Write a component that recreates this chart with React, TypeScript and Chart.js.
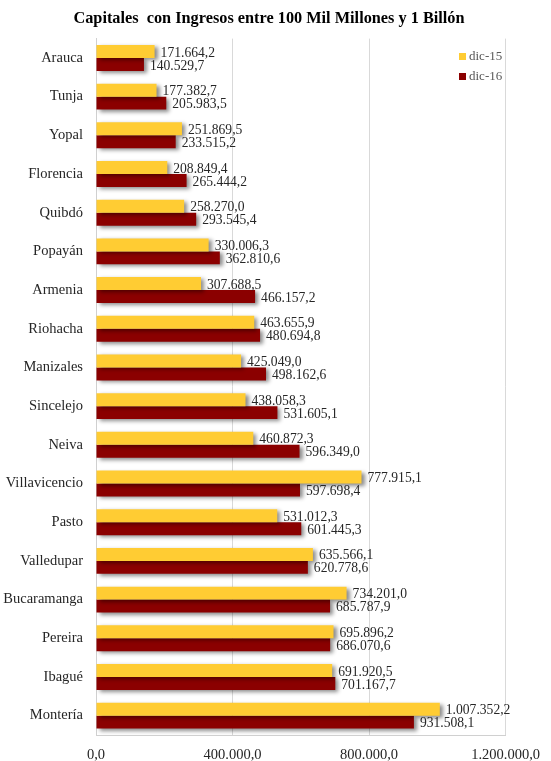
import { useEffect, useRef } from 'react';
import { Chart, registerables } from 'chart.js';

Chart.register(...registerables);

const title = 'Capitales  con Ingresos entre 100 Mil Millones y 1 Billón';
const categories = [
  'Arauca', 'Tunja', 'Yopal', 'Florencia', 'Quibdó', 'Popayán', 'Armenia', 'Riohacha', 'Manizales',
  'Sincelejo', 'Neiva', 'Villavicencio', 'Pasto', 'Valledupar', 'Bucaramanga', 'Pereira', 'Ibagué', 'Montería',
];
const seriesNames = ['dic-15', 'dic-16'];
const dic15 = [
  171664.2, 177382.7, 251869.5, 208849.4, 258270.0, 330006.3, 307688.5, 463655.9, 425049.0,
  438058.3, 460872.3, 777915.1, 531012.3, 635566.1, 734201.0, 695896.2, 691920.5, 1007352.2,
];
const dic16 = [
  140529.7, 205983.5, 233515.2, 265444.2, 293545.4, 362810.6, 466157.2, 480694.8, 498162.6,
  531605.1, 596349.0, 597698.4, 601445.3, 620778.6, 685787.9, 686070.6, 701167.7, 931508.1,
];
const xMin = 0;
const xMax = 1200000;
const xStep = 400000;

const colors = ['#FFCC33', '#8B0000'];
const FONT = '"Liberation Serif", "Times New Roman", serif';

function fmt(v: number): string {
  const s = Math.abs(v).toFixed(1);
  const [i, d] = s.split('.');
  return (v < 0 ? '-' : '') + i.replace(/\B(?=(\d{3})+(?!\d))/g, '.') + ',' + d;
}

const decorPlugin = {
  id: 'decor',
  beforeDatasetsDraw(chart: any) {
    const ctx = chart.ctx;
    ctx.save();
    ctx.shadowColor = 'rgba(0,0,0,0.45)';
    ctx.shadowBlur = 4;
    ctx.shadowOffsetX = 3;
    ctx.shadowOffsetY = 2;
  },
  afterDatasetsDraw(chart: any) {
    const ctx = chart.ctx;
    ctx.restore();
    ctx.save();
    ctx.font = `13.6px ${FONT}`;
    ctx.fillStyle = '#262626';
    ctx.textAlign = 'left';
    ctx.textBaseline = 'middle';
    chart.data.datasets.forEach((ds: any, di: number) => {
      const meta = chart.getDatasetMeta(di);
      meta.data.forEach((bar: any, i: number) => {
        ctx.fillText(fmt(ds.data[i]), bar.x + 6, bar.y + 1.5);
      });
    });
    ctx.restore();
  },
  afterDraw(chart: any) {
    const ctx = chart.ctx;
    ctx.save();
    // title
    ctx.font = `bold 16.3px ${FONT}`;
    ctx.fillStyle = '#000';
    ctx.textAlign = 'center';
    ctx.textBaseline = 'middle';
    ctx.fillText(title, 269, 19);
    // legend
    ctx.font = `13px ${FONT}`;
    ctx.textAlign = 'left';
    seriesNames.forEach((name, i) => {
      const y = 57 + i * 20;
      ctx.fillStyle = colors[i];
      ctx.fillRect(459, y - 4, 7, 7);
      ctx.fillStyle = '#595959';
      ctx.fillText(name, 469, y);
    });
    ctx.restore();
  },
};

export default function App() {
  const ref = useRef<HTMLCanvasElement>(null);
  useEffect(() => {
    if (!ref.current) return;
    const chart = new Chart(ref.current, {
      type: 'bar',
      data: {
        labels: categories,
        datasets: [
          { label: seriesNames[0], data: dic15, backgroundColor: colors[0], barPercentage: 1, categoryPercentage: 0.67 },
          { label: seriesNames[1], data: dic16, backgroundColor: colors[1], barPercentage: 1, categoryPercentage: 0.67 },
        ],
      },
      options: {
        indexAxis: 'y',
        responsive: false,
        animation: false,
        layout: { padding: { top: 38.6, right: 39, left: 0, bottom: 0 } },
        plugins: {
          legend: { display: false },
          title: { display: false },
          tooltip: { enabled: false },
        },
        scales: {
          x: {
            min: xMin,
            max: xMax,
            afterFit: (s: any) => { s.height = 26; },
            ticks: {
              stepSize: xStep,
              padding: 11,
              color: '#262626',
              font: { family: FONT, size: 14.5 },
              callback: (v: any) => fmt(Number(v)),
            },
            grid: { color: '#d9d9d9', lineWidth: 1, drawTicks: false },
            border: { display: true, color: '#d0d0d0' },
          },
          y: {
            afterFit: (s: any) => { s.width = 96; },
            ticks: {
              padding: 13,
              color: '#262626',
              font: { family: FONT, size: 14.5 },
            },
            grid: { display: false, drawTicks: false },
            border: { display: true, color: '#d0d0d0' },
          },
        },
      },
      plugins: [decorPlugin],
    });
    return () => chart.destroy();
  }, []);
  return (
    <div style={{ position: 'fixed', left: 0, top: 0, width: 551, height: 761, background: '#fff' }}>
      <canvas ref={ref} width={551} height={761} />
    </div>
  );
}
